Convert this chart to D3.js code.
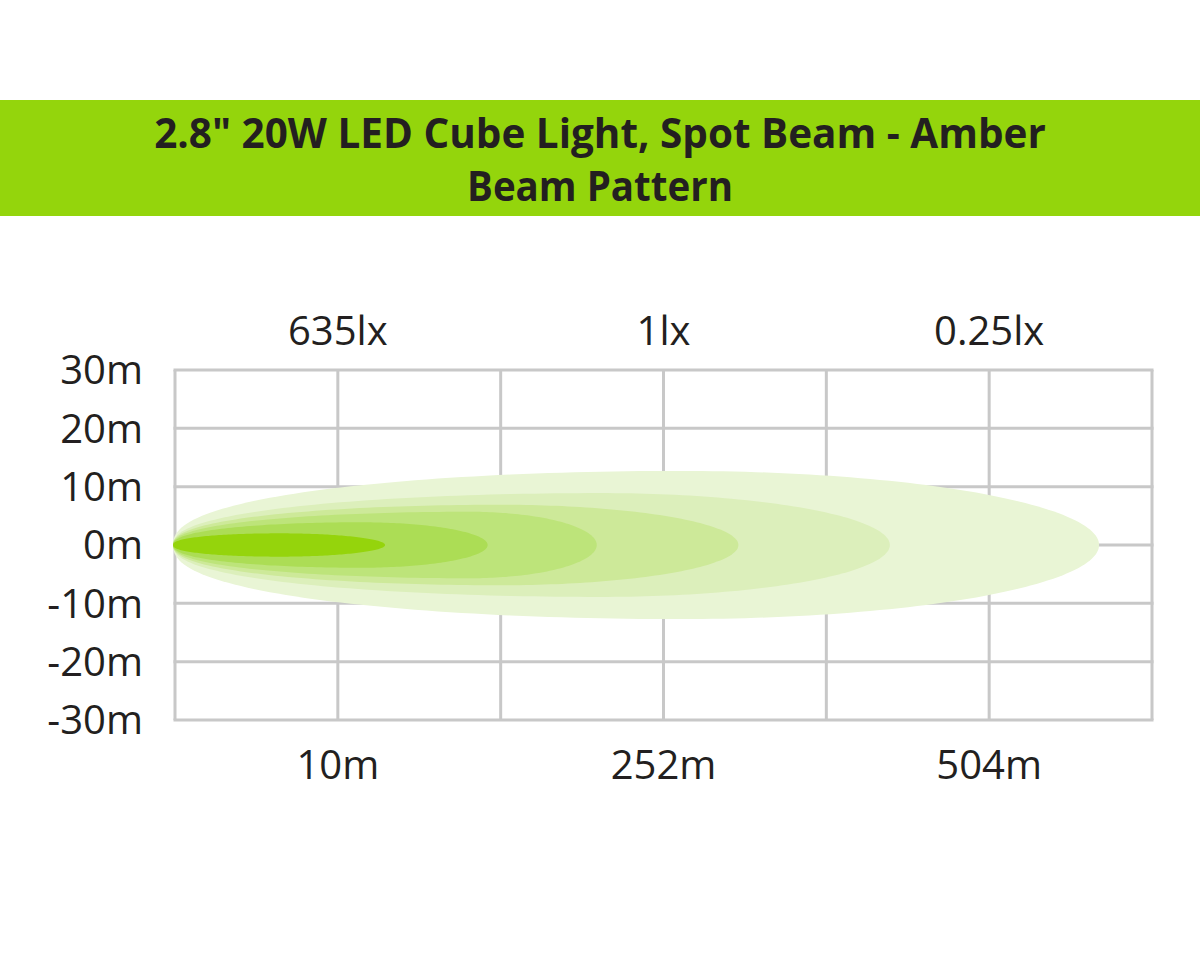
<!DOCTYPE html>
<html>
<head>
<meta charset="utf-8">
<script src="https://cdn.jsdelivr.net/npm/d3@7"></script>
<style>
  html, body { margin: 0; padding: 0; background: #ffffff; }
  svg { display: block; }
</style>
</head>
<body>
<svg id="chart" width="1200" height="960"></svg>
<script>
// ---- Data ----
const titleLines = ["2.8\" 20W LED Cube Light, Spot Beam - Amber", "Beam Pattern"];
// y axis (lateral spread, metres)
const yTicks = [30, 20, 10, 0, -10, -20, -30];
const yTickLabels = ["30m", "20m", "10m", "0m", "-10m", "-20m", "-30m"];
// x axis in grid columns (0..6)
const xGridCols = [0, 1, 2, 3, 4, 5, 6];
const labelCols = [1, 3, 5];
const luxLabels = ["635lx", "1lx", "0.25lx"];
const distLabels = ["10m", "252m", "504m"];
// beam layers, outermost first: column where widest, column where it ends, half-width in metres
const beamPeak = [3.10, 2.61, 2.00, 1.81, 1.14, 0.64];
const beamEnd  = [5.675, 4.39, 3.46, 2.59, 1.92, 1.29];
const beamHalf = [12.7, 8.9, 6.9, 5.7, 3.9, 2.0];
const beamColors = ["#e9f5d5", "#dcefbb", "#cde999", "#bde47a", "#acdd55", "#95d40c"];

// ---- Layout ----
const svg = d3.select("#chart");
const W = 1200;
const plot = { left: 175, right: 1152, top: 370, bottom: 720 };
const x = d3.scaleLinear().domain([0, 6]).range([plot.left, plot.right]);
const y = d3.scaleLinear().domain([-30, 30]).range([plot.bottom, plot.top]);
const textColor = "#231f20";
const gridColor = "#c8c8c8";
const fontFam = "'Open Sans', 'Noto Sans', sans-serif";

// Title band
svg.append("rect").attr("x", 0).attr("y", 100).attr("width", W).attr("height", 116)
  .attr("fill", "#94d50c");
const titleBaselines = [148, 201];
const titleWidths = [892, 266];
titleLines.forEach((t, i) => {
  const tx = svg.append("text")
    .attr("x", W / 2).attr("y", titleBaselines[i])
    .attr("text-anchor", "middle")
    .attr("font-family", fontFam)
    .attr("font-weight", 700)
    .attr("font-size", 41)
    .attr("fill", textColor)
    .text(t);
  const len = tx.node().getComputedTextLength();
  if (len > 0) {
    tx.attr("transform", `translate(${W/2},0) scale(${titleWidths[i] / len},1) translate(${-W/2},0)`);
  }
});

// Grid
const grid = svg.append("g").attr("stroke", gridColor).attr("stroke-width", 3).attr("fill", "none");
grid.selectAll("line.v").data(xGridCols).join("line")
  .attr("x1", d => x(d)).attr("x2", d => x(d))
  .attr("y1", y(30)).attr("y2", y(-30));
grid.selectAll("line.h").data(yTicks).join("line")
  .attr("x1", x(0) - 1.5).attr("x2", x(6) + 1.5)
  .attr("y1", d => y(d)).attr("y2", d => y(d));

// Beam layers
const beams = beamPeak.map((p, i) => ({ peak: p, end: beamEnd[i], half: beamHalf[i], color: beamColors[i] }));
const N = 60;
function beamPoints(b) {
  const pts = [];
  const nose = -0.012; // slight rounded nose just left of the origin
  const L = b.peak - nose;
  for (let k = 0; k <= N; k++) {
    const th = (k / N) * Math.PI / 2;
    pts.push([b.peak - L * Math.cos(th), b.half * Math.pow(Math.sin(th), 0.85)]);
  }
  for (let k = 1; k <= N; k++) {
    const th = (k / N) * Math.PI / 2;
    pts.push([b.peak + (b.end - b.peak) * Math.sin(th), b.half * Math.cos(th)]);
  }
  for (let k = 1; k <= N; k++) {
    const th = (k / N) * Math.PI / 2;
    pts.push([b.peak + (b.end - b.peak) * Math.cos(th), -b.half * Math.sin(th)]);
  }
  for (let k = 1; k <= N; k++) {
    const th = (k / N) * Math.PI / 2;
    pts.push([b.peak - L * Math.sin(th), -b.half * Math.pow(Math.cos(th), 0.85)]);
  }
  return pts;
}
const line = d3.line().x(d => x(d[0])).y(d => y(d[1])).curve(d3.curveLinearClosed);
svg.append("g").selectAll("path").data(beams).join("path")
  .attr("d", d => line(beamPoints(d)))
  .attr("fill", d => d.color);

// Y labels
svg.append("g").selectAll("text").data(yTicks).join("text")
  .attr("x", 143).attr("y", d => y(d))
  .attr("dy", "0.36em")
  .attr("text-anchor", "end")
  .attr("font-family", fontFam)
  .attr("font-size", 40)
  .attr("fill", textColor)
  .text((d, i) => yTickLabels[i]);

// Top lux labels
svg.append("g").selectAll("text").data(labelCols).join("text")
  .attr("x", d => x(d)).attr("y", 345)
  .attr("text-anchor", "middle")
  .attr("font-family", fontFam)
  .attr("font-size", 40)
  .attr("fill", textColor)
  .text((d, i) => luxLabels[i]);

// Bottom distance labels
svg.append("g").selectAll("text").data(labelCols).join("text")
  .attr("x", d => x(d)).attr("y", 779)
  .attr("text-anchor", "middle")
  .attr("font-family", fontFam)
  .attr("font-size", 40)
  .attr("fill", textColor)
  .text((d, i) => distLabels[i]);
</script>
</body>
</html>
